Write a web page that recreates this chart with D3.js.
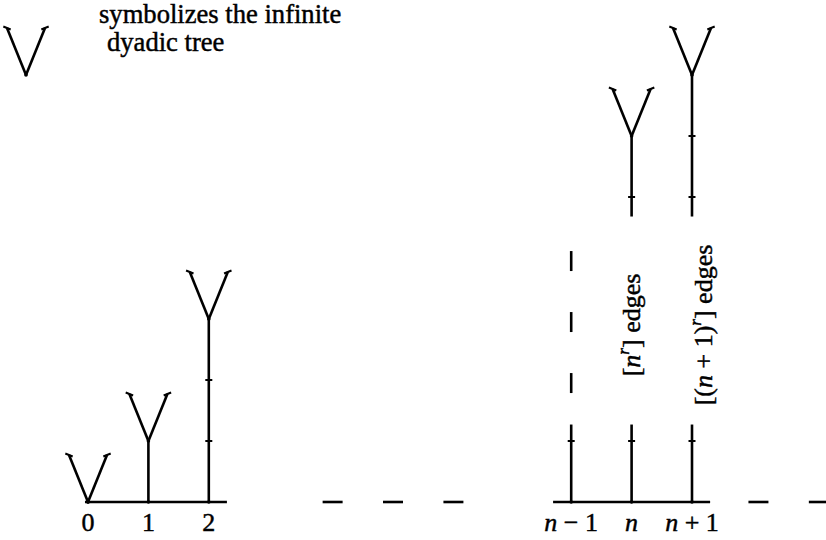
<!DOCTYPE html>
<html>
<head>
<meta charset="utf-8">
<script src="https://cdn.jsdelivr.net/npm/d3@7"></script>
<style>
  body { margin: 0; background: #fff; }
  text { stroke: #000; stroke-width: 0.45px; }
</style>
</head>
<body>
<div id="chart"></div>
<script>
// positions along the axis (in node units) and edge counts up to each tree root
var leftPos = [0, 1, 2];
var leftLabels = ["0", "1", "2"];
var leftRoots = [0, 1, 3];

var rightPos = [8, 9, 10];
var rightLabels = [["n", " − 1"], ["n", ""], ["n", " + 1"]];
var rightLower = [1.27, 1.27, 1.27];     // visible stem at bottom
var rightUpperFrom = [null, 4.68, 4.68]; // upper stem start
var rightRoots = [null, 6, 7];
var dashedStem = [1.95, 2.95, 3.95];     // dash centres on the n-1 stem

var gapDashes = [4.05, 5.05, 6.05, 11.1, 12.1];
var axisSpans = [[-0.05, 2.3], [7.7, 10.3]];

var FONT = "Liberation Serif";
var W = 826, H = 540;
var x = d3.scaleLinear().domain([0, 10]).range([88, 692]);
var y = d3.scaleLinear().domain([0, 7]).range([502, 75]);

var svg = d3.select("#chart").append("svg")
	.attr("width", W)
	.attr("height", H)
	.attr("font-family", FONT);

var ink = svg.append("g")
	.attr("stroke", "#000")
	.attr("stroke-width", 2.6)
	.attr("fill", "none");

var VH = 47, VW = 19;

function drawV(cx, cy)
{
	var g = ink.append("g");
	[-1, 1].forEach(function(s) {
		var tx = cx + s * VW, ty = cy - VH;
		g.append("line").attr("x1", cx).attr("y1", cy).attr("x2", tx).attr("y2", ty);
		// little serif across the tip
		var len = Math.sqrt(VW * VW + VH * VH);
		var px = VH / len * 4, py = -s * VW / len * 4;
		g.append("line").attr("stroke-width", 2)
			.attr("x1", tx - px).attr("y1", ty - py)
			.attr("x2", tx + px).attr("y2", ty + py);
	});
	g.append("circle").attr("cx", cx).attr("cy", cy).attr("r", 1.8).attr("fill", "#000").attr("stroke", "none");
}

function tick(cx, cy)
{
	ink.append("line").attr("stroke-width", 2)
		.attr("x1", cx - 3.5).attr("y1", cy).attr("x2", cx + 3.5).attr("y2", cy);
}

function dot(cx, cy)
{
	ink.append("circle").attr("cx", cx).attr("cy", cy).attr("r", 1.8).attr("fill", "#000").attr("stroke", "none");
}

// axis pieces
ink.selectAll("line.axis")
	.data(axisSpans)
	.enter().append("line")
	.attr("class", "axis")
	.attr("x1", function(d) { return x(d[0]); })
	.attr("x2", function(d) { return x(d[1]); })
	.attr("y1", y(0)).attr("y2", y(0));

// dashes standing in for the missing part of the axis
ink.selectAll("line.gap")
	.data(gapDashes)
	.enter().append("line")
	.attr("class", "gap")
	.attr("x1", function(d) { return x(d) - 10; })
	.attr("x2", function(d) { return x(d) + 10; })
	.attr("y1", y(0)).attr("y2", y(0));

// left trees
leftPos.forEach(function(p, i) {
	var cx = x(p);
	if (leftRoots[i] > 0) {
		ink.append("line").attr("x1", cx).attr("x2", cx).attr("y1", y(0)).attr("y2", y(leftRoots[i]));
	}
	d3.range(1, leftRoots[i]).forEach(function(k) { tick(cx, y(k)); });
	drawV(cx, y(leftRoots[i]));
	dot(cx, y(0));
});

svg.selectAll("text.lbl")
	.data(leftLabels)
	.enter().append("text")
	.attr("class", "lbl")
	.attr("x", function(d, i) { return x(leftPos[i]); })
	.attr("y", 531)
	.attr("text-anchor", "middle")
	.attr("font-size", 26)
	.text(function(d) { return d; });

// right trees
rightPos.forEach(function(p, i) {
	var cx = x(p);
	ink.append("line").attr("x1", cx).attr("x2", cx).attr("y1", y(0)).attr("y2", y(rightLower[i]));
	tick(cx, y(1));
	dot(cx, y(0));
	if (rightRoots[i] != null) {
		ink.append("line").attr("x1", cx).attr("x2", cx).attr("y1", y(rightUpperFrom[i])).attr("y2", y(rightRoots[i]));
		d3.range(5, rightRoots[i]).forEach(function(k) { tick(cx, y(k)); });
		drawV(cx, y(rightRoots[i]));
	}
});

ink.selectAll("line.vdash")
	.data(dashedStem)
	.enter().append("line")
	.attr("class", "vdash")
	.attr("x1", x(8)).attr("x2", x(8))
	.attr("y1", function(d) { return y(d) + 10; })
	.attr("y2", function(d) { return y(d) - 10; });

var rl = svg.selectAll("text.rlbl")
	.data(rightLabels)
	.enter().append("text")
	.attr("class", "rlbl")
	.attr("x", function(d, i) { return x(rightPos[i]); })
	.attr("y", 531)
	.attr("text-anchor", "middle")
	.attr("font-size", 26);
rl.append("tspan").attr("font-style", "italic").text(function(d) { return d[0]; });
rl.append("tspan").text(function(d) { return d[1]; });

// rotated edge labels
var t1 = svg.append("text")
	.attr("transform", "translate(" + (x(9) + 8) + ",325) rotate(-90)")
	.attr("text-anchor", "middle")
	.attr("font-size", 26);
t1.append("tspan").text("[");
t1.append("tspan").attr("font-style", "italic").text("n");
t1.append("tspan").attr("font-size", 17).attr("dy", -11).attr("font-style", "italic").text("r");
t1.append("tspan").attr("dy", 11).text("] edges");

var t2 = svg.append("text")
	.attr("transform", "translate(" + (x(10) + 20) + ",325) rotate(-90)")
	.attr("text-anchor", "middle")
	.attr("font-size", 26);
t2.append("tspan").text("[(");
t2.append("tspan").attr("font-style", "italic").text("n");
t2.append("tspan").text(" + 1)");
t2.append("tspan").attr("font-size", 17).attr("dy", -11).attr("font-style", "italic").text("r");
t2.append("tspan").attr("dy", 11).text("] edges");

// legend
drawV(26, 75);
svg.append("text").attr("x", 99).attr("y", 23).attr("font-size", 26.6).text("symbolizes the infinite");
svg.append("text").attr("x", 107).attr("y", 51).attr("font-size", 26.6).text("dyadic tree");
</script>
</body>
</html>
